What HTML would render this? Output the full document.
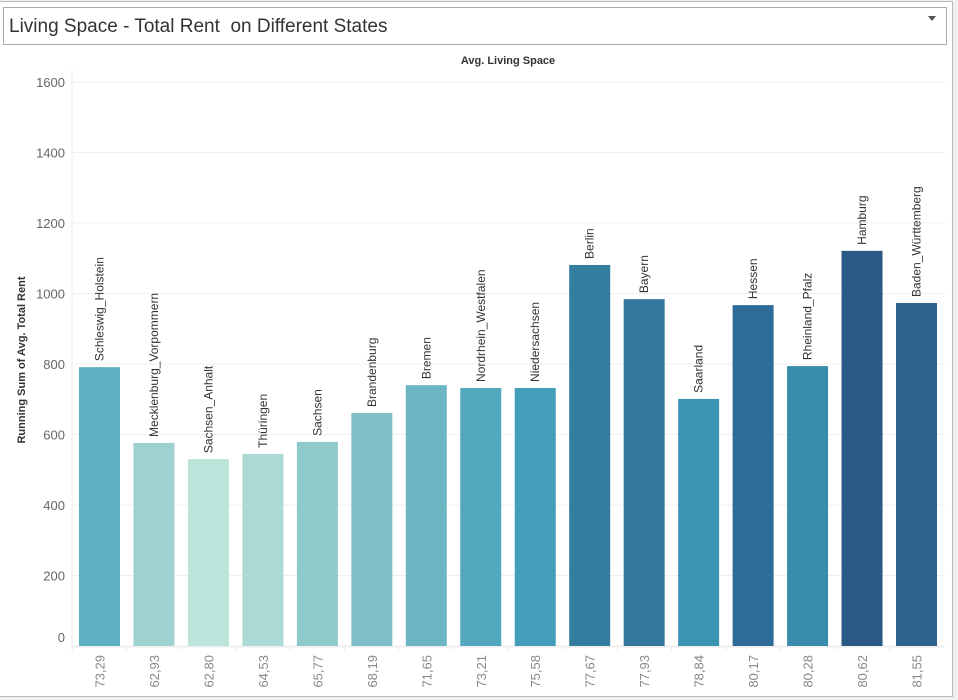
<!DOCTYPE html>
<html><head><meta charset="utf-8"><style>
body{margin:0;width:958px;height:700px;background:#f0f0f0;font-family:"Liberation Sans",sans-serif;overflow:hidden}
#frame{position:absolute;left:0;top:1px;width:952px;height:694px;background:#fff;border:1px solid #bbb;border-left:none}
#title{position:absolute;left:3px;top:7px;border:1px solid #aaa;font-size:19px;color:#333;line-height:38px;padding-left:5px;box-sizing:border-box;width:944px;height:38px}
#arrow{position:absolute;right:10px;top:8px;width:0;height:0;border-left:4px solid transparent;border-right:4px solid transparent;border-top:5px solid #555}
svg{position:absolute;left:0;top:0}
</style></head><body>
<div id="frame"></div>
<div id="title">Living Space - Total Rent&nbsp; on Different States<div id="arrow"></div></div>
<svg id="chart" width="958" height="700"></svg>
<script>
const states=["Schleswig_Holstein","Mecklenburg_Vorpommern","Sachsen_Anhalt","Thüringen","Sachsen","Brandenburg","Bremen","Nordrhein_Westfalen","Niedersachsen","Berlin","Bayern","Saarland","Hessen","Rheinland_Pfalz","Hamburg","Baden_Württemberg"];
const livingSpace=["73,29","62,93","62,80","64,53","65,77","68,19","71,65","73,21","75,58","77,67","77,93","78,84","80,17","80,28","80,62","81,55"];
const rent=[791,576,530,545,579,661,740,732,732,1081,984,701,967,794,1121,973];
const colors=["#5fb0c2","#9dd2d1","#bde4da","#abdad5","#8ecaca","#7ebfc8","#6cb6c4","#53a8bf","#439fb9","#337e9f","#3478a0","#3a94b3","#2e6b98","#3a8cad","#2b5985","#2e6390"];
const yTicks=[0,200,400,600,800,1000,1200,1400,1600];
const NS="http://www.w3.org/2000/svg";
const svg=document.getElementById('chart');
const y0=646,ppu=70.5/200,x0=99.5,step=(916.5-99.5)/15,bw=41;
const Y=v=>y0-v*ppu, X=i=>x0+i*step;
function mk(t,a,txt){const e=document.createElementNS(NS,t);for(const k in a)e.setAttribute(k,a[k]);if(txt!==undefined)e.textContent=txt;svg.appendChild(e);return e;}
yTicks.forEach(v=>{
 const g=mk('line',{x1:72,x2:945,y1:Y(v),y2:Y(v),stroke:'#efefef'});
 
 
 const t=mk('text',{x:65,y:Y(v)+(v===0?-4:5),'text-anchor':'end','font-size':13,fill:'#666'},v);
 
 
});
const ax=mk('line',{x1:72,x2:72,y1:68,y2:650,stroke:'#eee'});


const xa=mk('line',{x1:72,x2:945,y1:647,y2:647,stroke:'#eee'});


const yt=mk('text',{x:0,y:0,transform:'translate(25,360) rotate(-90)','text-anchor':'middle','font-size':11,'font-weight':'bold',fill:'#333'},'Running Sum of Avg. Total Rent');


const xt=mk('text',{x:508,y:64,'text-anchor':'middle','font-size':11,'font-weight':'bold',fill:'#333'},'Avg. Living Space');


states.forEach((s,i)=>{
 const cx=X(i);
 const b=mk('rect',{x:cx-bw/2,y:Y(rent[i]),width:bw,height:y0-Y(rent[i]),fill:colors[i]});
 
 
 const l=mk('text',{x:0,y:0,transform:`translate(${cx+4},${Y(rent[i])-6}) rotate(-90)`,'font-size':12,fill:'#333'},s);
 
 
 const tk=mk('line',{x1:cx-step/2,x2:cx-step/2,y1:647,y2:651,stroke:'#eee'});
 
 
 const xl=mk('text',{x:0,y:0,transform:`translate(${cx+5},${655}) rotate(-90)`,'text-anchor':'end','font-size':13,fill:'#888'},livingSpace[i]);
 
 
});
</script>
</body></html>
